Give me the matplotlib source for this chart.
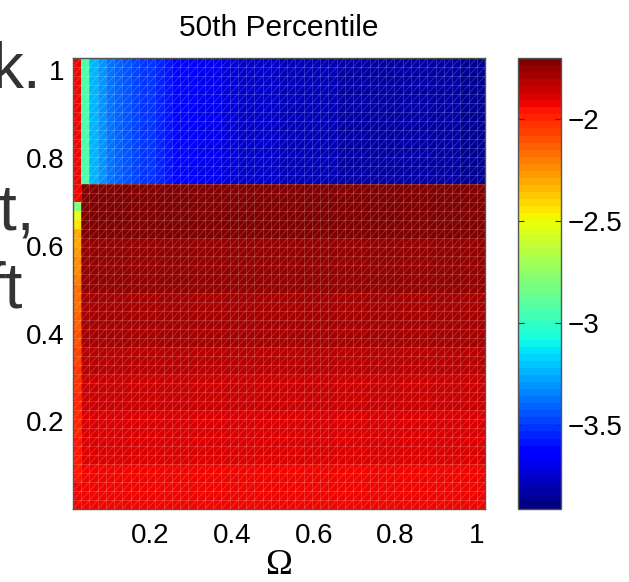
import matplotlib
matplotlib.use("Agg")
import matplotlib.pyplot as plt
from matplotlib.collections import LineCollection
import numpy as np

# values (50 x 50 grid)
# leftmost column, rows from bottom to top
first_col = [-1.93, -1.94, -1.94, -1.95, -1.95, -1.96, -1.96, -1.97, -1.98, -1.98,
             -1.99, -2.00, -2.01, -2.02, -2.03, -2.04, -2.06, -2.07, -2.09, -2.10,
             -2.12, -2.13, -2.15, -2.16, -2.18, -2.20, -2.22, -2.24, -2.28, -2.30,
             -2.32, -2.45, -2.50, -2.79, -1.93, -1.93, -1.93, -1.93, -1.93, -1.93,
             -1.93, -1.93, -1.93, -1.93, -1.93, -1.93, -1.93, -1.93, -1.93, -1.93]
# lower band (rows 0..35), bottom to top
lower_rows = [-1.92, -1.92, -1.91, -1.91, -1.91, -1.90, -1.90, -1.89, -1.89, -1.88,
              -1.88, -1.87, -1.86, -1.85, -1.84, -1.83, -1.82, -1.81, -1.80, -1.79,
              -1.79, -1.78, -1.77, -1.77, -1.76, -1.76, -1.75, -1.75, -1.74, -1.74,
              -1.73, -1.73, -1.72, -1.72, -1.71, -1.71]
# upper band (rows 36..49), columns 1..49
upper_cols = [-2.93, -3.22, -3.30, -3.36, -3.40, -3.44, -3.47, -3.50, -3.53, -3.56,
              -3.58, -3.61, -3.63, -3.65, -3.67, -3.69, -3.70, -3.72, -3.73, -3.74,
              -3.75, -3.76, -3.77, -3.77, -3.78, -3.78, -3.79, -3.79, -3.80, -3.80,
              -3.80, -3.81, -3.81, -3.81, -3.82, -3.82, -3.82, -3.82, -3.83, -3.83,
              -3.83, -3.83, -3.84, -3.84, -3.84, -3.84, -3.85, -3.85, -3.85]

x_ticks = [0.2, 0.4, 0.6, 0.8, 1]
x_labels = ["0.2", "0.4", "0.6", "0.8", "1"]
y_ticks = [0.2, 0.4, 0.6, 0.8, 1]
y_labels = ["0.2", "0.4", "0.6", "0.8", "1"]
cb_ticks = [-3.5, -3, -2.5, -2]
cb_labels = ["\u22123.5", "\u22123", "\u22122.5", "\u22122"]
vmin, vmax = -3.91, -1.70

n_low = len(lower_rows)
Z = np.zeros((len(first_col), len(upper_cols) + 1))
Z[:n_low, 1:] = np.array(lower_rows)[:, None]
Z[n_low:, 1:] = np.array(upper_cols)[None, :]
Z[:, 0] = first_col

xe = np.linspace(0.01, 1.02, Z.shape[1] + 1)
ye = np.linspace(0.0, 1.028, Z.shape[0] + 1)

plt.rcParams["font.family"] = ["Liberation Sans", "DejaVu Sans"]
W, H = 629, 582
fig = plt.figure(figsize=(W / 100, H / 100), dpi=100)
ax = fig.add_axes([73 / W, 1 - 509 / H, 412 / W, 451 / H])
cax = fig.add_axes([518 / W, 1 - 509 / H, 43 / W, 451 / H])

cmap = plt.get_cmap("jet", 64)
mesh = ax.pcolormesh(xe, ye, Z, cmap=cmap, vmin=vmin, vmax=vmax)

# faint mesh lines (cell edges + diagonals) like the original render
segs = [[(x, ye[0]), (x, ye[-1])] for x in xe]
segs += [[(xe[0], y), (xe[-1], y)] for y in ye]
for i in range(len(xe) - 1):
    for j in range(len(ye) - 1):
        segs.append([(xe[i], ye[j]), (xe[i + 1], ye[j + 1])])
ax.add_collection(LineCollection(segs, colors=[(1, 1, 1, 0.2)], linewidths=0.6))

ax.set_xlim(xe[0], xe[-1])
ax.set_ylim(ye[0], ye[-1])
ax.set_xticks(x_ticks)
ax.set_xticklabels(x_labels)
ax.set_yticks(y_ticks)
ax.set_yticklabels(y_labels)
ax.tick_params(axis="x", length=0, pad=10, labelsize=20)
ax.tick_params(axis="y", length=0, pad=6, labelsize=20)
for s in ax.spines.values():
    s.set_color("#555555")
    s.set_linewidth(1.0)
ax.set_title("50th Percentile", fontsize=21.5, pad=16)
ax.set_xlabel("\u03a9", family="Liberation Serif", fontsize=26, labelpad=0)

cb = fig.colorbar(mesh, cax=cax)
cb.set_ticks(cb_ticks)
cb.set_ticklabels(cb_labels)
cb.ax.tick_params(labelsize=20, direction="in", length=4, width=0.8,
                  color="#333333", left=True, right=True, pad=5)
cb.outline.set_edgecolor("#555555")
cb.outline.set_linewidth(1.0)

# clipped body text from the neighbouring page
stray = dict(fontsize=46, color="#333333", ha="right", va="baseline")
fig.text(41 / W, 1 - 88 / H, "k.", **stray)
fig.text(34 / W, 1 - 230 / H, "t,", **stray)
fig.text(23 / W, 1 - 308 / H, "ft", **stray)

fig.savefig("out.png", dpi=100)
